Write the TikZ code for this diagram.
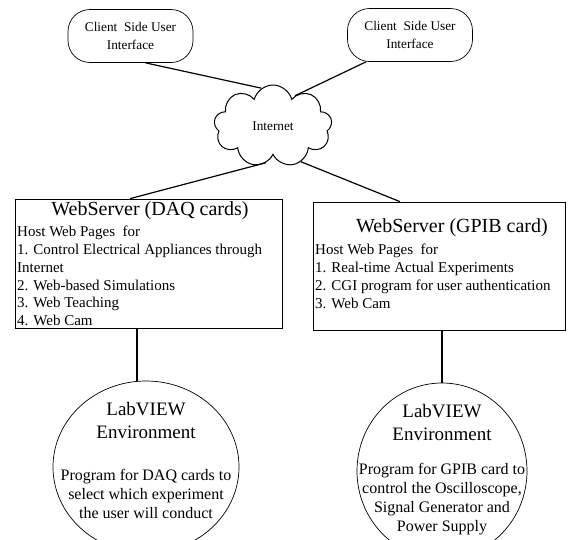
\documentclass[tikz,border=0pt]{standalone}
\usepackage{fontspec}
\setmainfont{Liberation Serif}
\usetikzlibrary{shapes.geometric,shapes.symbols}
\begin{document}
\begin{tikzpicture}[x=1pt,y=-1pt,
  client/.style={draw,line width=0.7pt,rounded corners=22pt,minimum width=125pt,minimum height=53pt,align=center,font=\fontsize{13.3}{18}\selectfont,inner sep=0pt},
  srvbox/.style={draw,line width=0.7pt,inner sep=0pt},
  lvcirc/.style={draw,ellipse,line width=0.7pt,inner sep=0pt},
  ttl/.style={font=\fontsize{20}{22}\selectfont,inner sep=0pt},
  body/.style={font=\fontsize{15}{17.8}\selectfont,align=left,inner sep=0pt,anchor=north west},
  lvttl/.style={font=\fontsize{19}{23}\selectfont,align=center,inner sep=0pt},
  lvbody/.style={font=\fontsize{16}{19}\selectfont,align=center,inner sep=0pt},
  conn/.style={line width=1.2pt}]
\useasboundingbox (0,0) rectangle (571,539);
% clients
\node[client] (cl1) at (130.5,36) {Client\ \ Side User\\Interface};
\node[client] (cl2) at (410,35) {Client\ \ Side User\\Interface};
% cloud
\node[cloud,draw,line width=1pt,cloud puffs=9,cloud puff arc=150,cloud ignores aspect,minimum width=118pt,minimum height=82pt,inner sep=0pt,font=\fontsize{13.3}{16}\selectfont] (inet) at (273,126) {Internet};
% servers
\node[srvbox,minimum width=267pt,minimum height=129pt] (daq) at (148.5,263.5) {};
\node[srvbox,minimum width=252pt,minimum height=128pt] (gpib) at (439,266) {};
\node[ttl] (daqt) at (150,211) {WebServer (DAQ cards)};
\node[body] (daqb) at (17,226) {Host Web Pages\ \ for\\1. Control Electrical Appliances through\\Internet\\2. Web-based Simulations\\3. Web Teaching\\4. Web Cam};
\node[ttl] (gpibt) at (452,228) {WebServer (GPIB card)};
\node[body] (gpibb) at (315,244) {Host Web Pages\ \ for\\1. Real-time Actual Experiments\\2. CGI program for user authentication\\3. Web Cam};
% LabVIEW circles
\node[lvcirc,minimum width=186pt,minimum height=172pt] (lv1) at (146,467) {};
\node[lvcirc,minimum width=170pt,minimum height=176pt] (lv2) at (442,471) {};
\node[lvttl] (lv1t) at (146,420) {LabVIEW\\Environment};
\node[lvbody] (lv1b) at (146,494) {Program for DAQ cards to\\select which experiment\\the user will conduct};
\node[lvttl] (lv2t) at (442,422) {LabVIEW\\Environment};
\node[lvbody] (lv2b) at (442,499) {Program for GPIB card to\\control the Oscilloscope,\\Signal Generator and\\Power Supply};
% connectors
\draw[conn] ([xshift=15pt]cl1.south) -- (inet.107);
\draw[conn] ([xshift=-44pt]cl2.south) -- (inet.54);
\draw[conn] (inet.-101) -- ([xshift=-18.5pt]daq.north);
\draw[conn] (inet.-52) -- ([xshift=-39pt]gpib.north);
\draw[conn] ([xshift=-11.5pt]daq.south) -- ([xshift=-11.5pt]daq.south |- lv1.north);
\draw[conn] ([xshift=3pt]gpib.south) -- (lv2.north);
\end{tikzpicture}
\end{document}
